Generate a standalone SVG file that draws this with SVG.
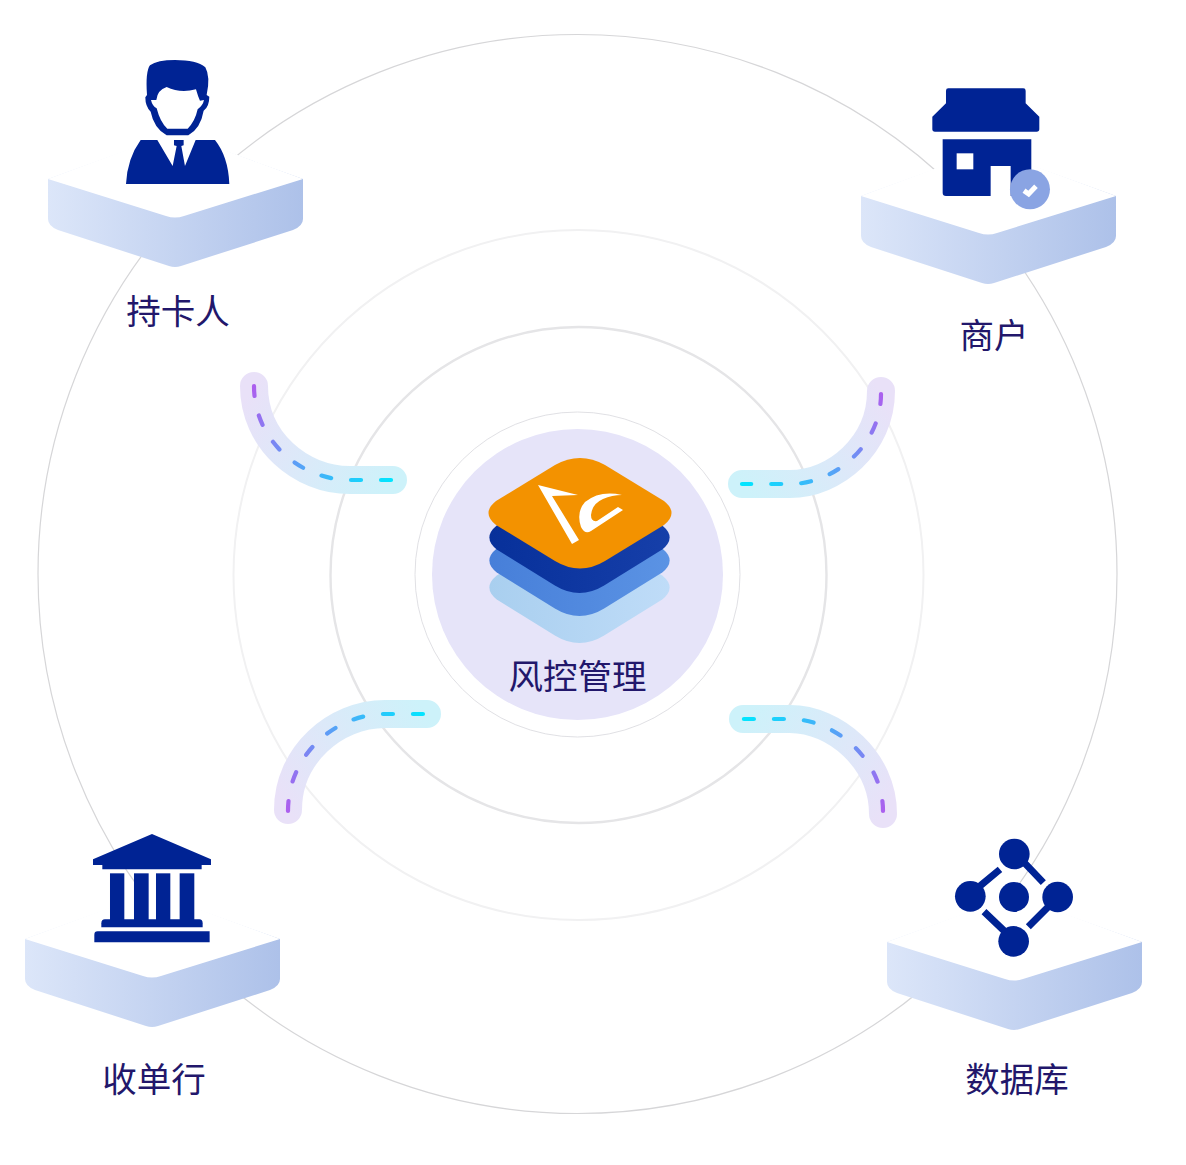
<svg xmlns="http://www.w3.org/2000/svg" width="1186" height="1165" viewBox="0 0 1186 1165">
<style>
.ring{fill:none}
.band{fill:none;stroke-width:28;stroke-linecap:round}
.dash{fill:none;stroke-width:4.2;stroke-linecap:round;stroke-dasharray:10 20}
.ic{fill:#002394}
.lbl{font-family:"Noto Sans CJK SC","Liberation Sans",sans-serif;font-size:34.5px;fill:#22176b;text-anchor:middle}
</style>
<defs>
<linearGradient id="pg" x1="0" y1="0" x2="1" y2="0"><stop offset="0" stop-color="#dce6f9"/><stop offset="1" stop-color="#adc1e9"/></linearGradient>
<g id="plat">
<path d="M0 0 L127 -46 L255 0 L255 40 Q255 47 245 51 L133 87 Q127 89 121 87 L10 51 Q0 47 0 40 Z" fill="url(#pg)"/>
<path d="M0 0 L127 -47 L255 0 L136 37 Q127 40 118 37 Z" fill="#fff"/>
</g>
<linearGradient id="b1" gradientUnits="userSpaceOnUse" x1="254" y1="386" x2="393" y2="480"><stop offset="0" stop-color="#e9e1f8"/><stop offset="1" stop-color="#cdf2fa"/></linearGradient>
<linearGradient id="d1" gradientUnits="userSpaceOnUse" x1="254" y1="386" x2="393" y2="480"><stop offset="0" stop-color="#ac5fee"/><stop offset="1" stop-color="#00e6ff"/></linearGradient>
<linearGradient id="b2" gradientUnits="userSpaceOnUse" x1="881" y1="391" x2="742" y2="484"><stop offset="0" stop-color="#e9e1f8"/><stop offset="1" stop-color="#cdf2fa"/></linearGradient>
<linearGradient id="d2" gradientUnits="userSpaceOnUse" x1="881" y1="391" x2="742" y2="484"><stop offset="0" stop-color="#ac5fee"/><stop offset="1" stop-color="#00e6ff"/></linearGradient>
<linearGradient id="b3" gradientUnits="userSpaceOnUse" x1="288" y1="810" x2="427" y2="714"><stop offset="0" stop-color="#e9e1f8"/><stop offset="1" stop-color="#cdf2fa"/></linearGradient>
<linearGradient id="d3" gradientUnits="userSpaceOnUse" x1="288" y1="810" x2="427" y2="714"><stop offset="0" stop-color="#ac5fee"/><stop offset="1" stop-color="#00e6ff"/></linearGradient>
<linearGradient id="b4" gradientUnits="userSpaceOnUse" x1="883" y1="814" x2="743" y2="719"><stop offset="0" stop-color="#e9e1f8"/><stop offset="1" stop-color="#cdf2fa"/></linearGradient>
<linearGradient id="d4" gradientUnits="userSpaceOnUse" x1="883" y1="814" x2="743" y2="719"><stop offset="0" stop-color="#ac5fee"/><stop offset="1" stop-color="#00e6ff"/></linearGradient>
<path id="lay" d="M555 465 Q580 451 605 465 L664 501 Q679 513 664 525 L605 561 Q580 576 555 561 L496 525 Q481 513 496 501 Z"/>
<linearGradient id="l1" x1="0" y1="0" x2="1" y2="0"><stop offset="0" stop-color="#a9cfef"/><stop offset="1" stop-color="#bfdcf8"/></linearGradient>
<linearGradient id="l2" x1="0" y1="0" x2="1" y2="0"><stop offset="0" stop-color="#477fd9"/><stop offset="1" stop-color="#5b93e4"/></linearGradient>
<linearGradient id="l3" x1="0" y1="0" x2="1" y2="0"><stop offset="0" stop-color="#07309a"/><stop offset="1" stop-color="#163fa9"/></linearGradient>
</defs>
<rect width="1186" height="1165" fill="#fff"/>
<g id="rings">
<circle class="ring" cx="577.5" cy="574" r="539.5" stroke="#d6d6d8" stroke-width="1.2"/>
<circle class="ring" cx="578.5" cy="575" r="345" stroke="#f1f1f2" stroke-width="2"/>
<circle class="ring" cx="578.5" cy="575" r="248" stroke="#e5e5e7" stroke-width="2.4"/>
</g>
<g id="connectors">
<path class="band" stroke="url(#b1)" d="M254 386 C254 440 300 480 350 480 L393 480"/>
<path class="dash" stroke="url(#d1)" d="M254 386 C254 440 300 480 350 480 L393 480"/>
<path class="band" stroke="url(#b2)" d="M881 391 C881 445 835 484 790 484 L742 484"/>
<path class="dash" stroke="url(#d2)" d="M881 394 C881 445 835 484 790 484 L742 484"/>
<path class="band" stroke="url(#b3)" d="M288 810 C288 755 335 714 385 714 L427 714"/>
<path class="dash" stroke="url(#d3)" d="M288 811 C288 755 335 714 385 714 L427 714"/>
<path class="band" stroke="url(#b4)" d="M883 814 C883 760 835 719 790 719 L743 719"/>
<path class="dash" stroke="url(#d4)" d="M883 811 C883 760 835 719 790 719 L743 719"/>
</g>
<g id="center">
<circle cx="577.5" cy="574.5" r="162.5" fill="#fff" stroke="#d8d8dd" stroke-width=".8"/>
<circle cx="577.5" cy="574.5" r="145.5" fill="#e6e4f9"/>
<use href="#lay" fill="url(#l1)" transform="translate(579.5 587.5) scale(.985 1) translate(-580 -513)"/>
<use href="#lay" fill="url(#l2)" transform="translate(579.5 560.5) scale(.985 1) translate(-580 -513)"/>
<use href="#lay" fill="url(#l3)" transform="translate(579.5 537.5) scale(.985 1) translate(-580 -513)"/>
<use href="#lay" fill="#f39200"/>
<path fill="#fff" d="M538 485 L578 495 L552 496 L579 540 L572 544 Z"/>
<path fill="#fff" d="M622 495 Q600 490 585 502 Q576 512 581 527 Q585 535 591 531 L623 510 L618 507 L597 521 Q591 522 591 515 Q592 504 603 499 Q612 495 622 495 Z"/>
<text class="lbl" x="577.5" y="689">风控管理</text>
</g>
<g id="cardholder">
<use href="#plat" x="48" y="179"/>
<g transform="translate(20 40) scale(.3333)">
<path class="ic" d="M465 60 Q412 60 390 76 Q376 95 381 165 L376 172 Q376 200 392 215 Q402 265 440 286 L505 286 Q542 265 551 212 Q568 200 568 170 L560 165 Q572 110 556 82 Q530 60 465 60 Z"/>
<path fill="#fff" d="M393 180 L409 180 Q412 150 440 141 Q480 160 528 148 Q534 170 540 182 L552 180 Q549 196 533 208 Q525 245 503 266 L442 266 Q421 248 410 205 Q397 198 393 180 Z"/>
<path class="ic" d="M318 432 Q322 355 362 300 L412 300 L458 378 L470 318 L462 316 L462 300 L491 300 L491 316 L484 318 L495 378 L527 300 L585 300 Q625 350 628 432 Z"/>
</g>
<text class="lbl" x="178" y="324">持卡人</text>
</g>
<g id="merchant">
<use href="#plat" x="861" y="196"/>
<g transform="translate(850 70) scale(.3333)">
<path class="ic" d="M295 55 L520 55 Q527 55 527 62 L527 100 L568 140 L568 178 Q568 185 560 185 L255 185 Q247 185 247 178 L247 140 L288 100 L288 62 Q288 55 295 55 Z"/>
<path class="ic" d="M278 208 L544 208 L544 378 L482 378 L482 288 L422 288 L422 378 L288 378 Q278 378 278 368 Z"/>
<rect x="320" y="250" width="50" height="48" fill="#fff"/>
<circle cx="540" cy="358" r="60" fill="#8aa4e3"/>
<path d="M522 362 L536 372 L558 349" fill="none" stroke="#fff" stroke-width="15"/>
</g>
<text class="lbl" x="994" y="348">商户</text>
</g>
<g id="acquirer">
<use href="#plat" x="25" y="939"/>
<g transform="translate(20 820) scale(.3333)">
<path class="ic" d="M396 42 L573 118 L573 135 L545 135 L545 148 L247 148 L247 135 L219 135 L219 118 Z"/>
<rect class="ic" x="270" y="160" width="43" height="140"/>
<rect class="ic" x="342" y="160" width="44" height="140"/>
<rect class="ic" x="408" y="160" width="43" height="140"/>
<rect class="ic" x="479" y="160" width="44" height="140"/>
<path class="ic" d="M255 298 L538 298 Q548 298 548 310 L548 322 L244 322 L244 310 Q244 298 255 298 Z"/>
<path class="ic" d="M233 334 L569 334 L569 367 L223 367 L223 344 Q223 334 233 334 Z"/>
</g>
<text class="lbl" x="154" y="1092">收单行</text>
</g>
<g id="database">
<use href="#plat" x="887" y="942"/>
<g transform="translate(880 820) scale(.3333)">
<circle class="ic" cx="403" cy="102" r="46"/>
<circle class="ic" cx="271" cy="229" r="46"/>
<circle class="ic" cx="402" cy="231" r="45"/>
<circle class="ic" cx="533" cy="231" r="46"/>
<circle class="ic" cx="401" cy="364" r="46"/>
<path d="M430 125 L490 188 M300 198 L360 148 M312 275 L375 335 M445 320 L505 260" fill="none" stroke="#002394" stroke-width="21"/>
</g>
<text class="lbl" x="1017" y="1092">数据库</text>
</g>
</svg>
